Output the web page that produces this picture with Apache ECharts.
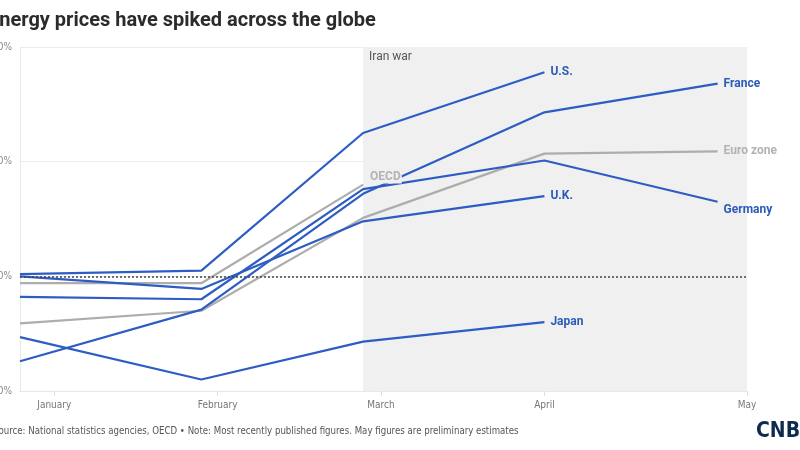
<!DOCTYPE html>
<html>
<head>
    <meta charset="utf-8" />
    <title></title>
    <script src="https://cdn.jsdelivr.net/npm/echarts@6/dist/echarts.min.js"></script>
    <style>
        html, body { margin: 0; padding: 0; background: #fff; }
    </style>
</head>
<body>
    <div id="EChart" style="width:800px; height:450px;"></div>
    <script type="text/javascript">
        // month ticks (axis units: one month per unit, May sits at the end)
        var months = ['January', 'February', 'March', 'April', 'May'];
        var tickPos = [0, 1, 2, 3, 4.24];
        // where each monthly reading is plotted
        var dataX = [-0.21, 0.9, 1.89, 3.0, 4.06];
        var yTicks = [-10, 0, 10, 20];

        // energy price change, %
        var us      = [0.2, 0.5, 12.5, 17.8];
        var uk      = [0.0, -1.1, 4.8, 7.0];
        var germany = [-1.8, -2.0, 7.6, 10.1, 6.5];
        var france  = [-7.4, -2.9, 7.2, 14.3, 16.8];
        var japan   = [-5.3, -9.0, -5.7, -4.0];
        var oecd    = [-0.6, -0.6, 8.0];
        var euro    = [-4.1, -3.0, 5.1, 10.7, 10.9];

        var blue = '#2c5cc4';
        var gray = '#adadad';
        var narrow = '"DejaVu Sans Condensed", Roboto, sans-serif';

        function pts(vals) {
            return vals.map(function (v, i) { return [dataX[i], v]; });
        }

        function line(name, vals, color, labelColor, offset) {
            return {
                name: name,
                type: 'line',
                data: pts(vals),
                symbol: 'none',
                silent: true,
                lineStyle: { color: color, width: 2.2 },
                endLabel: {
                    show: true,
                    formatter: name,
                    color: labelColor,
                    fontWeight: 'bold',
                    fontSize: 12,
                    fontFamily: 'Roboto',
                    distance: 6,
                    offset: offset || [0, 0]
                }
            };
        }

        var series = [
            line('Euro zone', euro, gray, '#b3b3b3'),
            line('OECD', oecd, gray, '#b3b3b3', [0, -8]),
            line('U.S.', us, blue, '#2d5bb8'),
            line('U.K.', uk, blue, '#2d5bb8'),
            line('Germany', germany, blue, '#2d5bb8', [0, 8]),
            line('France', france, blue, '#2d5bb8'),
            line('Japan', japan, blue, '#2d5bb8')
        ];
        series[1].endLabel.backgroundColor = '#f0f0f0';
        series[1].endLabel.padding = [1, 1];

        // shaded war period + dotted zero line
        series.push({
            type: 'line',
            data: [],
            silent: true,
            markArea: {
                silent: true,
                itemStyle: { color: '#f0f0f0' },
                label: {
                    show: true,
                    position: 'insideTopLeft',
                    distance: 0,
                    color: '#555',
                    fontSize: 12,
                    fontFamily: 'Roboto',
                    offset: [6, 4]
                },
                data: [[{ name: 'Iran war', xAxis: dataX[2] }, { xAxis: tickPos[4] }]]
            },
            z: 1
        });
        series.push({
            type: 'line',
            data: [],
            silent: true,
            markLine: {
                silent: true,
                symbol: 'none',
                label: { show: false },
                lineStyle: { color: '#444', type: [2, 2], width: 1.6 },
                data: [{ yAxis: 0 }]
            },
            z: 5
        });

        var option = {
            animation: false,
            grid: { left: 20, right: 53, top: 47, bottom: 59, outerBoundsMode: 'none', containLabel: false },
            xAxis: {
                type: 'value',
                min: dataX[0],
                max: tickPos[4],
                splitLine: { show: false },
                axisLine: { show: true, onZero: false, lineStyle: { color: '#e8e8e8' } },
                axisTick: { show: true, customValues: tickPos, length: 5, lineStyle: { color: '#e0e0e0' } },
                axisLabel: {
                    customValues: tickPos,
                    color: '#777',
                    fontSize: 10,
                    fontFamily: narrow,
                    margin: 9,
                    formatter: function (v) {
                        for (var i = 0; i < tickPos.length; i++) {
                            if (Math.abs(tickPos[i] - v) < 0.01) return months[i];
                        }
                        return '';
                    }
                }
            },
            yAxis: {
                type: 'value',
                min: yTicks[0],
                max: yTicks[yTicks.length - 1],
                interval: 10,
                axisLine: { show: true, onZero: false, lineStyle: { color: '#e8e8e8' } },
                axisTick: { show: false },
                splitLine: { lineStyle: { color: '#ebebeb' } },
                axisLabel: {
                    color: '#888',
                    fontSize: 10,
                    fontFamily: narrow,
                    margin: 8,
                    formatter: '{value}%'
                }
            },
            graphic: [
                {
                    type: 'text',
                    x: -12,
                    y: 11,
                    style: {
                        text: 'Energy prices have spiked across the globe',
                        fill: '#2b2b2b',
                        font: 'bold 20px Roboto'
                    }
                },
                {
                    type: 'text',
                    x: -7,
                    y: 426,
                    style: {
                        text: 'Source: National statistics agencies, OECD \u2022 Note: Most recently published figures. May figures are preliminary estimates',
                        fill: '#555',
                        font: '9.6px ' + narrow
                    }
                },
                {
                    type: 'text',
                    x: 756,
                    y: 421,
                    style: {
                        text: 'CNBC',
                        fill: '#0e2a4f',
                        font: 'bold 21px ' + narrow
                    }
                }
            ],
            series: series
        };

        var myChart = echarts.init(document.getElementById('EChart'));
        myChart.setOption(option);
    </script>
</body>
</html>
